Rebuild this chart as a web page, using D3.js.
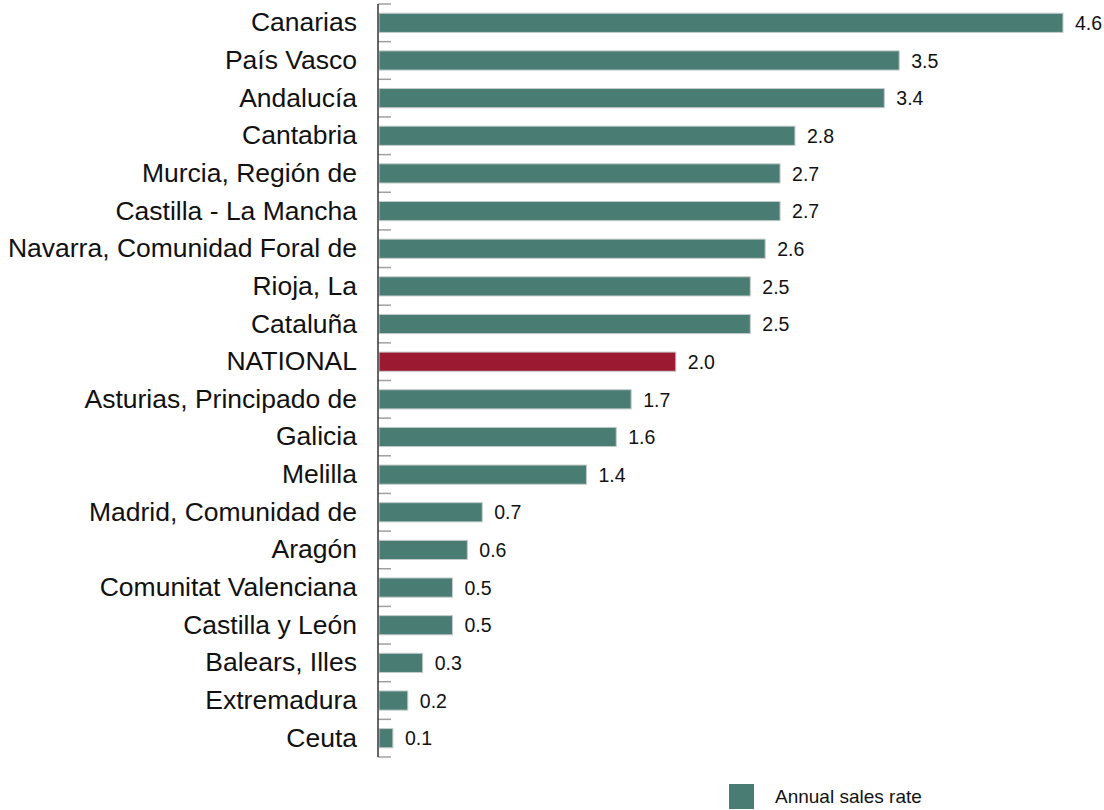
<!DOCTYPE html>
<html>
<head>
<meta charset="utf-8">
<script src="https://cdn.jsdelivr.net/npm/d3@7"></script>
<style>
  body { margin: 0; background: #fff; }
  text { font-family: "Liberation Sans", Arial, sans-serif; }
</style>
</head>
<body>
<div id="chart"></div>
<script>
'use strict';

// regions, sorted as in the reference
const regions = [
  "Canarias", "País Vasco", "Andalucía", "Cantabria", "Murcia, Región de",
  "Castilla - La Mancha", "Navarra, Comunidad Foral de", "Rioja, La", "Cataluña",
  "NATIONAL", "Asturias, Principado de", "Galicia", "Melilla", "Madrid, Comunidad de",
  "Aragón", "Comunitat Valenciana", "Castilla y León", "Balears, Illes", "Extremadura", "Ceuta"
];
const salesRate = [4.6, 3.5, 3.4, 2.8, 2.7, 2.7, 2.6, 2.5, 2.5, 2.0, 1.7, 1.6, 1.4, 0.7, 0.6, 0.5, 0.5, 0.3, 0.2, 0.1];
const legendLabel = "Annual sales rate";

const W = 1104, H = 810;
const axisX = 378, plotTop = 4, plotBottom = 757;
const teal = "#497d74", red = "#9b1a31";

const svg = d3.select('#chart').append('svg').attr('width', W).attr('height', H);

const x = d3.scaleLinear().domain([0, 4.6]).range([axisX, 1063]);
const y = d3.scaleBand().domain(regions).range([plotTop, plotBottom]).paddingInner(0.49).paddingOuter(0.245);
const step = y.step();

// tick marks at band boundaries
const bounds = d3.range(regions.length + 1).map(i => plotTop + i * step);
svg.selectAll('line.tick').data(bounds).enter().append('line')
  .attr('class', 'tick')
  .attr('x1', axisX).attr('x2', axisX + 13)
  .attr('y1', d => d).attr('y2', d => d)
  .attr('stroke', '#a0a0a0').attr('stroke-width', 1.5);

// bars
const rows = regions.map((r, i) => ({ name: r, v: salesRate[i] }));
svg.selectAll('rect.bar').data(rows).enter().append('rect')
  .attr('class', 'bar')
  .attr('x', axisX + 1)
  .attr('y', d => y(d.name))
  .attr('width', d => x(d.v) - axisX - 1)
  .attr('height', y.bandwidth())
  .attr('fill', d => d.name === "NATIONAL" ? red : teal)
  .attr('stroke', '#c4ccca').attr('stroke-width', 1);

// axis line
svg.append('line')
  .attr('x1', axisX).attr('x2', axisX)
  .attr('y1', plotTop).attr('y2', plotBottom)
  .attr('stroke', '#333').attr('stroke-width', 1.5);

// category labels
svg.selectAll('text.cat').data(rows).enter().append('text')
  .attr('class', 'cat')
  .attr('x', 357)
  .attr('y', d => y(d.name) + y.bandwidth() / 2)
  .attr('dy', '0.32em')
  .attr('text-anchor', 'end')
  .attr('font-size', 26.5)
  .attr('fill', '#111')
  .text(d => d.name);

// value labels
svg.selectAll('text.val').data(rows).enter().append('text')
  .attr('class', 'val')
  .attr('x', d => x(d.v) + 12)
  .attr('y', d => y(d.name) + y.bandwidth() / 2)
  .attr('dy', '0.37em')
  .attr('font-size', 19.5)
  .attr('fill', '#111')
  .text(d => d.v.toFixed(1));

// legend
svg.append('rect')
  .attr('x', 729).attr('y', 784).attr('width', 25).attr('height', 25)
  .attr('fill', teal);
svg.append('text')
  .attr('x', 775).attr('y', 803)
  .attr('font-size', 19)
  .attr('fill', '#111')
  .text(legendLabel);
</script>
</body>
</html>
